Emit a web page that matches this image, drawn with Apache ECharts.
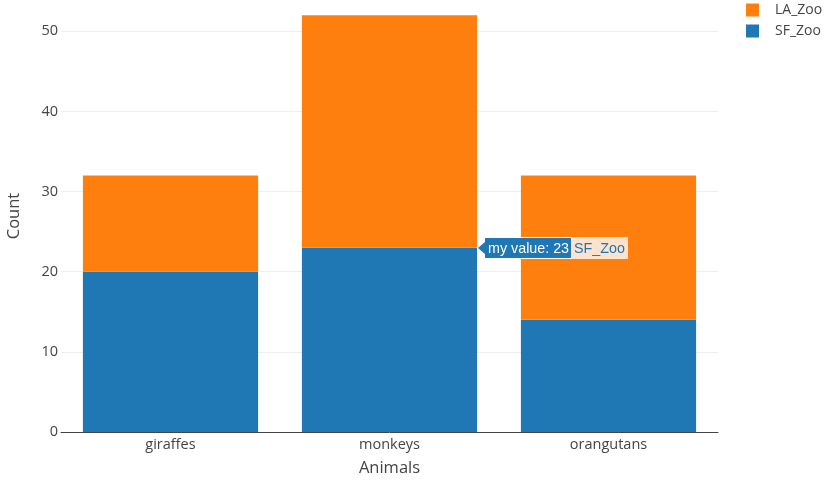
<!DOCTYPE html>
<html>
<head>
<meta charset="utf-8">
<script src="https://cdn.jsdelivr.net/npm/echarts@6/dist/echarts.min.js"></script>
<style>html,body{margin:0;padding:0;background:#fff}#c{width:835px;height:481px}</style>
</head>
<body>
<div id="c"></div>
<script>
const categories = ['giraffes', 'monkeys', 'orangutans'];
const sfZoo = [20, 23, 14];
const laZoo = [12, 29, 18];
const seriesNames = ['SF_Zoo', 'LA_Zoo'];
const yTicks = [0, 10, 20, 30, 40, 50];
const yMax = 53.9;
const hoverIndex = 1;

const FONT = '"Open Sans", sans-serif';
const chart = echarts.init(document.getElementById('c'), null, {renderer: 'canvas'});
chart.setOption({
  animation: false,
  color: ['#1f77b4', '#ff7f0e'],
  grid: {left: 61, right: 117, top: 0, bottom: 49, containLabel: false, outerBoundsMode: 'none'},
  legend: {
    data: [seriesNames[1], seriesNames[0]],
    orient: 'vertical', left: 746, top: 3, padding: 0,
    icon: 'rect', itemWidth: 13, itemHeight: 13, itemGap: 7,
    textStyle: {fontFamily: FONT, fontSize: 14, color: '#444', padding: [0, 0, 0, 11]}
  },
  tooltip: {
    trigger: 'item', triggerOn: 'none', alwaysShowContent: true,
    backgroundColor: 'transparent', borderWidth: 0, padding: 0,
    extraCssText: 'box-shadow:none;border-radius:0;',
    transitionDuration: 0,
    position: function (point, params, dom, rect, size) {
      return [rect.x + rect.width, rect.y - size.contentSize[1] / 2];
    },
    formatter: function (p) {
      return '<div style="display:flex;align-items:stretch;font:14.3px \'Liberation Sans\',Arial,sans-serif;line-height:20px;">' +
        '<div style="position:relative;margin-left:7px;background:#1f77b4;color:#fff;padding:0 2px 0 3px;border:1px solid #fff;border-right:none;">' +
        '<span style="position:absolute;left:-7px;top:4px;width:0;height:0;border-top:6px solid transparent;border-bottom:6px solid transparent;border-right:7px solid #1f77b4;"></span>' +
        'my value: ' + p.value + '</div>' +
        '<div style="background:#fde3cd;color:#1f77b4;padding:1px 3px 1px 3px;">' + p.seriesName + '</div></div>';
    }
  },
  xAxis: {
    type: 'category', data: categories,
    name: 'Animals', nameLocation: 'middle', nameGap: 28,
    nameTextStyle: {fontFamily: FONT, fontSize: 16.5, color: '#444'},
    axisLine: {lineStyle: {color: '#444', width: 1}},
    axisTick: {show: false},
    axisLabel: {fontFamily: FONT, fontSize: 14.5, color: '#444', margin: 5}
  },
  yAxis: {
    type: 'value', min: yTicks[0], max: yMax, interval: yTicks[1] - yTicks[0],
    name: 'Count', nameLocation: 'middle', nameGap: 38,
    nameTextStyle: {fontFamily: FONT, fontSize: 16.5, color: '#444'},
    axisLine: {show: false}, axisTick: {show: false},
    axisLabel: {fontFamily: FONT, fontSize: 14.5, color: '#444', margin: 3, showMaxLabel: false},
    splitLine: {show: true, showMaxLine: false, showMinLine: false, lineStyle: {color: '#eee', width: 1}}
  },
  series: [
    {name: seriesNames[0], type: 'bar', stack: 'z', data: sfZoo, barCategoryGap: '20%', itemStyle: {color: '#1f77b4'}, emphasis: {disabled: true}},
    {name: seriesNames[1], type: 'bar', stack: 'z', data: laZoo, barCategoryGap: '20%', itemStyle: {color: '#ff7f0e'}, emphasis: {disabled: true}}
  ]
});
setTimeout(function () {
  chart.dispatchAction({type: 'showTip', seriesIndex: 0, dataIndex: hoverIndex});
}, 50);
</script>
</body>
</html>
